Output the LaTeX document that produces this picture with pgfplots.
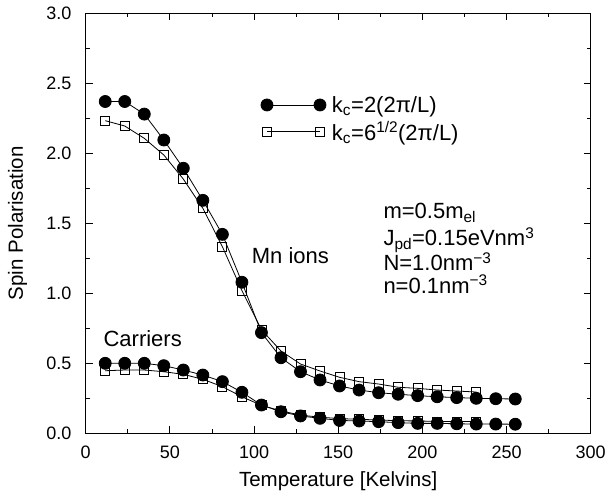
\documentclass[border=0pt]{standalone}
\usepackage{fontspec}
\setmainfont{Liberation Sans}
\usepackage{pgfplots}
\pgfplotsset{compat=1.18}

\pgfplotstableread{
T V
11.6 2.37
23.2 2.37
34.8 2.28
46.4 2.095
58.0 1.893
69.6 1.664
81.2 1.421
92.8 1.079
104.4 0.719
116.0 0.540
127.6 0.440
139.2 0.381
150.8 0.338
162.4 0.309
174.0 0.290
185.6 0.279
197.2 0.269
208.8 0.261
220.4 0.255
232.0 0.250
243.6 0.247
255.2 0.245
}\mnA

\pgfplotstableread{
T V
11.6 2.233
23.2 2.195
34.8 2.107
46.4 1.988
58.0 1.816
69.6 1.607
81.2 1.333
92.8 1.019
104.4 0.740
116.0 0.588
127.6 0.495
139.2 0.445
150.8 0.400
162.4 0.369
174.0 0.352
185.6 0.329
197.2 0.321
208.8 0.309
220.4 0.302
232.0 0.295
}\mnB

\pgfplotstableread{
T V
11.6 0.500
23.2 0.500
34.8 0.500
46.4 0.483
58.0 0.452
69.6 0.416
81.2 0.369
92.8 0.293
104.4 0.202
116.0 0.154
127.6 0.124
139.2 0.107
150.8 0.092
162.4 0.088
174.0 0.083
185.6 0.076
197.2 0.071
208.8 0.071
220.4 0.068
232.0 0.066
243.6 0.066
255.2 0.065
}\caA

\pgfplotstableread{
T V
11.6 0.447
23.2 0.452
34.8 0.452
46.4 0.440
58.0 0.421
69.6 0.386
81.2 0.333
92.8 0.261
104.4 0.200
116.0 0.160
127.6 0.130
139.2 0.115
150.8 0.105
162.4 0.100
174.0 0.095
185.6 0.090
197.2 0.088
208.8 0.085
220.4 0.085
232.0 0.083
}\caB

\begin{document}
\begin{tikzpicture}
\begin{axis}[
  name=ax,
  scale only axis, width=505pt, height=420pt,
  xmin=0, xmax=300, ymin=0, ymax=3,
  xtick={0,50,...,300}, ytick={0,0.5,...,3},
  minor x tick num=1, minor y tick num=1,
  tick align=inside, major tick length=7pt, minor tick length=4pt,
  tick style={black, line width=0.8pt},
  axis line style={line width=1pt},
  /pgf/number format/assume math mode=true,
  yticklabel style={/pgf/number format/fixed, /pgf/number format/fixed zerofill, /pgf/number format/precision=1},
  tick label style={font=\fontsize{18}{20}\selectfont, inner sep=0pt},
  xticklabel style={anchor=base, yshift=-25pt},
  yticklabel style={anchor=east, xshift=-14pt},
  xlabel={Temperature [Kelvins]},
  ylabel={Spin Polarisation},
  label style={font=\fontsize{20.5}{24}\selectfont, inner sep=0pt},
  xlabel style={at={(axis description cs:0.5,0)}, anchor=base, yshift=-53.4pt},
  ylabel style={at={([xshift=-62.7pt]axis description cs:0,0.5)}, anchor=base, rotate=0},
  legend style={at={(axis cs:104,2.416)}, anchor=north west, draw=none, fill=none,
    font=\fontsize{22}{26}\selectfont, row sep=5.7pt, inner sep=0pt,
    nodes={inner xsep=1pt, inner ysep=1pt}},
  legend cell align=left,
  legend image code/.code={\draw[#1] plot coordinates {(0pt,0pt) (53pt,0pt)};},
]
\addlegendimage{black, line width=0.8pt, mark=*, mark size=6pt, mark options={fill=black}}
\addlegendentry{\hspace*{5pt}k\textsubscript{c}=2(2π/L)}
\addlegendimage{black, line width=0.8pt, mark=square, mark size=4.5pt, mark options={line width=0.8pt}}
\addlegendentry{\hspace*{5pt}k\textsubscript{c}=6\textsuperscript{1/2}(2π/L)}

\addplot[black, line width=0.8pt, mark=square, mark size=4.5pt, mark options={line width=0.8pt, fill=white}, forget plot] table[x=T,y=V] {\mnB};
\addplot[black, line width=0.8pt, mark=square, mark size=4.5pt, mark options={line width=0.8pt, fill=white}, forget plot] table[x=T,y=V] {\caB};
\addplot[black, line width=0.8pt, mark=*, mark size=6pt, mark options={fill=black}, forget plot] table[x=T,y=V] {\mnA};
\addplot[black, line width=0.8pt, mark=*, mark size=6pt, mark options={fill=black}, forget plot] table[x=T,y=V] {\caA};

\node[anchor=base west, inner sep=0pt, font=\fontsize{22}{26}\selectfont] at (axis cs:98.6,1.216) {Mn ions};
\node[anchor=base west, inner sep=0pt, font=\fontsize{22}{26}\selectfont] at (axis cs:10.5,0.62) {Carriers};
\node[anchor=base west, inner sep=0pt, font=\fontsize{22}{26}\selectfont] at (axis cs:176.8,1.536) {m=0.5m\textsubscript{el}};
\node[anchor=base west, inner sep=0pt, font=\fontsize{22}{26}\selectfont] at (axis cs:176.8,1.34) {J\textsubscript{pd}=0.15eVnm\textsuperscript{3}};
\node[anchor=base west, inner sep=0pt, font=\fontsize{22}{26}\selectfont] at (axis cs:176.8,1.161) {N=1.0nm\textsuperscript{−3}};
\node[anchor=base west, inner sep=0pt, font=\fontsize{22}{26}\selectfont] at (axis cs:176.8,1.0) {n=0.1nm\textsuperscript{−3}};
\end{axis}
\pgfresetboundingbox
\path ([shift={(-85.7pt,-64.7pt)}]ax.south west) rectangle ([shift={(18.3pt,13.3pt)}]ax.north east);
\end{tikzpicture}
\end{document}
